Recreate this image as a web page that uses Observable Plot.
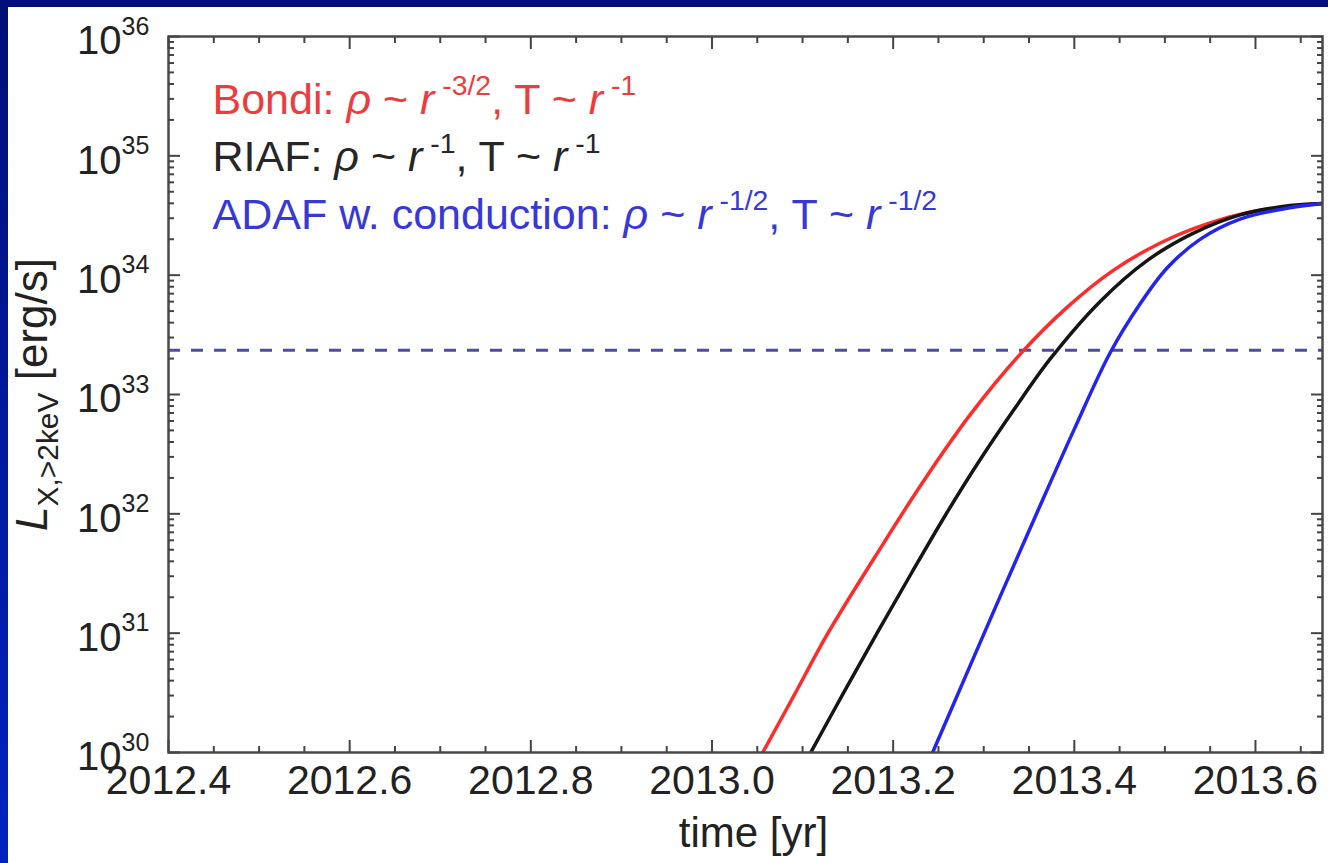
<!DOCTYPE html>
<html><head><meta charset="utf-8">
<script src="https://cdn.jsdelivr.net/npm/d3@7"></script>
<script src="https://cdn.jsdelivr.net/npm/@observablehq/plot@0.6"></script>
<style>
html,body{margin:0;padding:0;width:1328px;height:863px;overflow:hidden;}
body{background:linear-gradient(to bottom,#000f78,#0022c0);position:relative;}
#chart{position:absolute;left:8px;top:7px;width:1320px;height:856px;background:#fff;}
#chart svg{display:block;}
</style></head><body><div id="chart"></div>
<script>
// ---- data ----
const models = ["Bondi", "RIAF", "ADAF w. conduction"];
const lineColors = ["#ff2a2a", "#151515", "#2424f0"];
const textColors = ["#ee3c3c", "#262626", "#3838d6"];

const bondiTime = [2013.056, 2013.09, 2013.128, 2013.18, 2013.234, 2013.287, 2013.3405, 2013.392, 2013.443, 2013.495, 2013.5465, 2013.6015, 2013.674];
const bondiLogL = [30.0, 30.47, 31.0, 31.64, 32.28, 32.85, 33.34, 33.73, 34.04, 34.27, 34.43, 34.54, 34.60];

const riafTime = [2013.109, 2013.146, 2013.183, 2013.22, 2013.257, 2013.294, 2013.334, 2013.3736, 2013.4286, 2013.48, 2013.531, 2013.583, 2013.63, 2013.674];
const riafLogL = [30.0, 30.51, 31.01, 31.50, 31.98, 32.43, 32.88, 33.30, 33.78, 34.12, 34.35, 34.505, 34.575, 34.60];

const adafTime = [2013.2436, 2013.28, 2013.32, 2013.36, 2013.40, 2013.4396, 2013.4727, 2013.5024, 2013.5388, 2013.583, 2013.638, 2013.674];
const adafLogL = [30.0, 30.64, 31.34, 32.03, 32.71, 33.35, 33.76, 34.06, 34.30, 34.47, 34.565, 34.60];

const thresholdLogL = 33.37;

const xMajor = [2012.4, 2012.6, 2012.8, 2013.0, 2013.2, 2013.4, 2013.6];
const xMinor = [2012.45, 2012.5, 2012.55, 2012.65, 2012.7, 2012.75, 2012.85, 2012.9, 2012.95, 2013.05, 2013.1, 2013.15, 2013.25, 2013.3, 2013.35, 2013.45, 2013.5, 2013.55, 2013.65];
const yExponents = [30, 31, 32, 33, 34, 35, 36];
const yMinorMultipliers = [2, 3, 4, 5, 6, 7, 8, 9];

const xLabel = "time [yr]";
const yLabelParts = [["L", "i"], ["X,>2keV", "sub"], [" [erg/s]", ""]];
const legendParts = [
  [["Bondi: ", ""], ["ρ", "i"], [" ~ ", ""], ["r", "i"], [" -3/2", "sup"], [", T ~ ", ""], ["r", "i"], [" -1", "sup"]],
  [["RIAF: ", ""], ["ρ", "i"], [" ~ ", ""], ["r", "i"], [" -1", "sup"], [", T ~ ", ""], ["r", "i"], [" -1", "sup"]],
  [["ADAF w. conduction: ", ""], ["ρ", "i"], [" ~ ", ""], ["r", "i"], [" -1/2", "sup"], [", T ~ ", ""], ["r", "i"], [" -1/2", "sup"]]
];

// ---- build table ----
const seriesTimes = [bondiTime, riafTime, adafTime];
const seriesLogL = [bondiLogL, riafLogL, adafLogL];
const table = [];
models.forEach((m, i) => seriesTimes[i].forEach((t, j) => table.push({model: m, t, L: 10 ** seriesLogL[i][j]})));
const yMinor = [];
yExponents.slice(0, -1).forEach(e => yMinorMultipliers.forEach(k => yMinor.push(k * 10 ** e)));
const yMajor = yExponents.map(e => 10 ** e);

const plain = parts => parts.map(p => p[0]).join("");
const tickStyle = {fill: "none", label: null, stroke: "#444", strokeWidth: 2};
const FS = 41;
const LEG = 43;

const legendMarks = legendParts.map((parts, i) =>
  Plot.text([plain(parts)], {
    frameAnchor: "top-left", textAnchor: "start", dx: 44, dy: 77 + i * 57.5, lineAnchor: "bottom",
    fill: textColors[i], fontSize: LEG, text: d => d
  })
);

const plot = Plot.plot({
  width: 1320, height: 856,
  marginLeft: 160, marginTop: 29, marginRight: 6, marginBottom: 111,
  style: {fontFamily: "'Liberation Sans', Arial, Helvetica, sans-serif", background: "transparent", color: "#222", overflow: "visible"},
  x: {domain: [2012.4, 2013.674]},
  y: {type: "log", domain: [1e30, 1e36]},
  color: {domain: models, range: lineColors},
  marks: [
    Plot.ruleY([10 ** thresholdLogL], {stroke: "#4c4ca4", strokeWidth: 3, strokeDasharray: "12,11"}),
    Plot.line(table, {x: "t", y: "L", z: "model", stroke: "model", strokeWidth: 3.5, curve: "catmull-rom", clip: true}),
    Plot.frame({stroke: "#4a4a4a", strokeWidth: 2.5}),
    // inward ticks on all four sides
    Plot.axisX(xMinor, {anchor: "bottom", tickSize: 6, dy: -6, ...tickStyle}),
    Plot.axisX(xMajor, {anchor: "bottom", tickSize: 12, dy: -12, ...tickStyle}),
    Plot.axisX(xMinor, {anchor: "top", tickSize: 6, dy: 6, ...tickStyle}),
    Plot.axisX(xMajor, {anchor: "top", tickSize: 12, dy: 12, ...tickStyle}),
    Plot.axisY(yMinor, {anchor: "left", tickSize: 6, dx: 6, ...tickStyle}),
    Plot.axisY(yMajor, {anchor: "left", tickSize: 12, dx: 12, ...tickStyle}),
    Plot.axisY(yMinor, {anchor: "right", tickSize: 6, dx: -6, ...tickStyle}),
    Plot.axisY(yMajor, {anchor: "right", tickSize: 12, dx: -12, ...tickStyle}),
    // x tick labels
    Plot.axisX(xMajor, {anchor: "bottom", tickSize: 0, tickPadding: 12, fontSize: FS, tickFormat: d => d.toFixed(1), label: null, fill: "#222"}),
    // y tick labels 10^n
    Plot.text(yExponents, {y: d => 10 ** d, text: () => "10", frameAnchor: "left", textAnchor: "end", dx: -47, dy: 5, fontSize: 40, fill: "#222"}),
    Plot.text(yExponents, {y: d => 10 ** d, text: d => String(d), frameAnchor: "left", textAnchor: "start", lineAnchor: "bottom", dx: -47, dy: -2, fontSize: 25, fill: "#222"}),
    // axis labels
    Plot.text([xLabel], {frameAnchor: "bottom", textAnchor: "middle", dx: 8, dy: 94, fontSize: 42, fill: "#222", text: d => d}),
    Plot.text([plain(yLabelParts)], {frameAnchor: "left", textAnchor: "middle", rotate: -90, dx: -122, lineAnchor: "bottom", fontSize: 44, fill: "#222", text: d => d}),
    ...legendMarks
  ]
});
document.getElementById("chart").appendChild(plot);

// rich text: italics, superscripts, subscripts
const NS = "http://www.w3.org/2000/svg";
function setRich(el, parts, base) {
  while (el.firstChild) el.removeChild(el.firstChild);
  let shift = 0;
  for (const [s, kind] of parts) {
    const ts = document.createElementNS(NS, "tspan");
    let size = base, target = 0;
    if (kind === "sup") { size = base * 0.66; target = -base * 0.42; }
    if (kind === "sub") { size = base * 0.68; target = base * 0.26; }
    if (kind === "i") ts.setAttribute("font-style", "italic");
    ts.setAttribute("font-size", size);
    const dy = target - shift;
    if (dy) ts.setAttribute("dy", dy);
    shift = target;
    ts.textContent = s;
    el.appendChild(ts);
  }
}
const richTargets = legendParts.map(p => [p, LEG]).concat([[yLabelParts, 44]]);
plot.querySelectorAll("text").forEach(el => {
  const txt = el.textContent;
  for (const [parts, size] of richTargets) {
    if (txt === plain(parts)) setRich(el, parts, size);
  }
});
</script></body></html>
